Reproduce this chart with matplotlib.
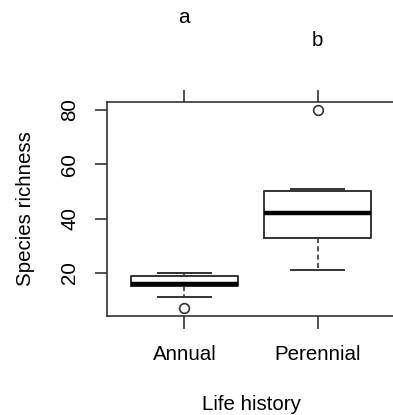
import matplotlib
matplotlib.use('Agg')
import matplotlib.pyplot as plt

plt.rcParams['font.family'] = ['Liberation Sans', 'DejaVu Sans']

# box statistics
groups = ['Annual', 'Perennial']
whisker_low = [11, 21]
q1 = [15, 33]
median = [16, 42]
q3 = [19, 50]
whisker_high = [20, 51]
outliers = [[7], [80]]
letters = ['a', 'b']
letter_y = [114, 105.5]

stats = []
for i in range(len(groups)):
    stats.append(dict(label=groups[i], whislo=whisker_low[i], q1=q1[i],
                      med=median[i], q3=q3[i], whishi=whisker_high[i],
                      fliers=outliers[i]))

fs = 14.8
col = '#333333'

fig = plt.figure(figsize=(3.93, 4.15), dpi=100)
ax = fig.add_axes([107/393, 1 - 316/415, (395 - 107)/393, (316 - 102)/415])

ax.bxp(stats, positions=[1, 2], widths=0.8, capwidths=0.4,
       boxprops=dict(color=col, linewidth=1.4),
       whiskerprops=dict(color=col, linewidth=1.2, linestyle=(0, (3, 2))),
       capprops=dict(color=col, linewidth=1.4),
       medianprops=dict(color='black', linewidth=3.2),
       flierprops=dict(marker='o', markerfacecolor='none', markeredgecolor=col,
                       markersize=7, markeredgewidth=1.2))

ax.set_xlim(0.42, 2.58)
ax.set_ylim(4.08, 82.92)
ax.set_yticks([20, 40, 60, 80])
ax.set_xticks([1, 2])
ax.set_xticklabels(groups, fontsize=fs)
ax.set_yticklabels(['20', '40', '60', '80'], fontsize=fs, rotation=90, va='center')

ax.tick_params(axis='x', top=True, labeltop=False, direction='out',
               length=9, width=1.2, color=col, pad=12)
ax.tick_params(axis='y', direction='out', length=9, width=1.2, color=col, pad=11)

for s in ax.spines.values():
    s.set_color(col)
    s.set_linewidth(1.2)

ax.set_xlabel('Life history', fontsize=fs, labelpad=22)
ax.set_ylabel('Species richness', fontsize=fs, labelpad=18)

for i in range(len(groups)):
    ax.text(i + 1, letter_y[i], letters[i], fontsize=fs, ha='center', va='center',
            clip_on=False)

fig.savefig('out.png', dpi=100)
